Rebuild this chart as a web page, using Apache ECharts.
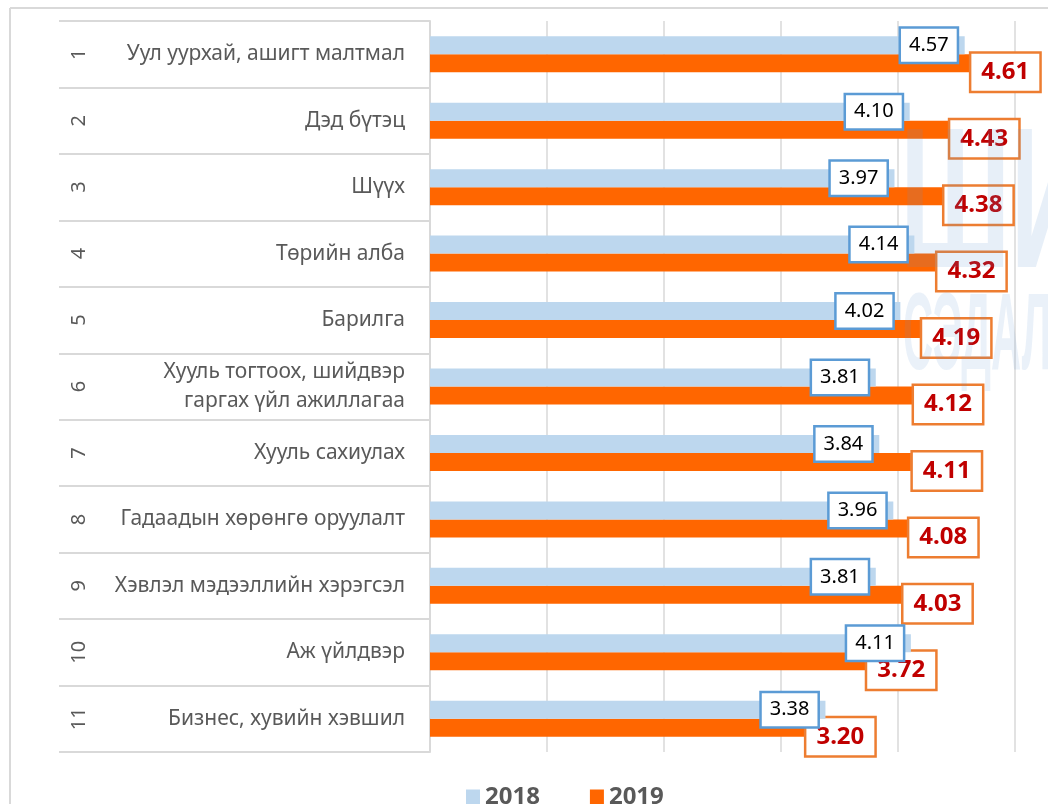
<!DOCTYPE html>
<html>
<head>
<meta charset="utf-8">
<script src="https://cdn.jsdelivr.net/npm/echarts@6/dist/echarts.min.js"></script>
<style>
  html, body { margin: 0; padding: 0; background: #fff; }
  #chart { width: 1048px; height: 804px; }
</style>
</head>
<body>
<div id="chart"></div>
<script>
// row numbers and sector names (top to bottom)
var rowNumbers = ['1', '2', '3', '4', '5', '6', '7', '8', '9', '10', '11']
var sectors = [
    'Уул уурхай, ашигт малтмал',
    'Дэд бүтэц',
    'Шүүх',
    'Төрийн алба',
    'Барилга',
    'Хууль тогтоох, шийдвэр\nгаргах үйл ажиллагаа',
    'Хууль сахиулах',
    'Гадаадын хөрөнгө оруулалт',
    'Хэвлэл мэдээллийн хэрэгсэл',
    'Аж үйлдвэр',
    'Бизнес, хувийн хэвшил'
]
var values2018 = [4.57, 4.10, 3.97, 4.14, 4.02, 3.81, 3.84, 3.96, 3.81, 4.11, 3.38]
var values2019 = [4.61, 4.43, 4.38, 4.32, 4.19, 4.12, 4.11, 4.08, 4.03, 3.72, 3.20]
var xTicks = [0, 1, 2, 3, 4, 5]

var font = 'Noto Sans'
var gridColor = '#D9D9D9'

var myChart = echarts.init(document.getElementById('chart'))

var option = {
    backgroundColor: '#fff',
    animation: false,
    grid: {left: 430, right: 33, top: 21, bottom: 52, containLabel: false},
    legend: {
        data: ['2018', '2019'],
        left: 461,
        top: 780,
        icon: 'rect',
        itemWidth: 14,
        itemHeight: 15,
        itemGap: 50,
        textStyle: {fontFamily: font, fontSize: 24, fontWeight: 'bold', color: '#595959'}
    },
    xAxis: {
        type: 'value',
        min: xTicks[0],
        max: xTicks[xTicks.length - 1],
        interval: 1,
        axisLabel: {show: false},
        axisTick: {show: false},
        axisLine: {show: false},
        splitLine: {lineStyle: {color: gridColor, width: 1.5}}
    },
    yAxis: [
        {
            type: 'category',
            data: sectors,
            inverse: true,
            axisLine: {lineStyle: {color: gridColor, width: 2}},
            axisTick: {show: true, length: 371, interval: 0, lineStyle: {color: gridColor, width: 2}},
            axisLabel: {
                margin: 25,
                fontFamily: font,
                fontSize: 21,
                lineHeight: 29,
                color: '#595959',
                align: 'right'
            }
        },
        {
            type: 'category',
            data: rowNumbers,
            inverse: true,
            position: 'left',
            offset: 343,
            axisLine: {show: false},
            axisTick: {show: false},
            axisLabel: {
                margin: 8,
                rotate: 90,
                align: 'center',
                verticalAlign: 'middle',
                fontFamily: font,
                fontSize: 20,
                color: '#595959'
            }
        }
    ],
    series: [
        {
            name: '2018',
            type: 'bar',
            data: values2018,
            barWidth: 18,
            barGap: '0%',
            zlevel: 1,
            itemStyle: {color: '#BDD7EE'},
            label: {
                show: true,
                position: 'insideRight',
                distance: 8,
                formatter: function (p) { return p.value.toFixed(2) },
                fontFamily: font,
                fontSize: 20,
                color: '#000',
                backgroundColor: '#fff',
                borderColor: '#5B9BD5',
                borderWidth: 2.5,
                padding: [7, 8, 6, 8]
            }
        },
        {
            name: '2019',
            type: 'bar',
            data: values2019,
            barWidth: 18,
            barGap: '0%',
            itemStyle: {color: '#FF6600'},
            label: {
                show: true,
                position: 'right',
                distance: 2,
                offset: [0, 9],
                formatter: function (p) { return p.value.toFixed(2) },
                fontFamily: font,
                fontSize: 24,
                fontWeight: 'bold',
                color: '#C00000',
                backgroundColor: '#fff',
                borderColor: '#ED7D31',
                borderWidth: 2.5,
                padding: [7, 10, 6, 10]
            }
        }
    ],
    graphic: [
        // outer chart frame
        {type: 'line', shape: {x1: 10, y1: 8, x2: 1048, y2: 8}, style: {stroke: gridColor, lineWidth: 2}, silent: true},
        {type: 'line', shape: {x1: 10, y1: 8, x2: 10, y2: 804}, style: {stroke: gridColor, lineWidth: 2}, silent: true},
        // faint watermark at the right edge
        {type: 'text', x: 900, y: 112, scaleX: 0.55, z: 100, silent: true,
            style: {text: 'ШИН', font: 'bold 200px "Liberation Sans"', fill: 'rgba(91,145,205,0.15)', verticalAlign: 'top'}},
        {type: 'text', x: 903, y: 284, scaleX: 0.38, z: 100, silent: true,
            style: {text: 'СЭДАЛГАА', font: 'bold 110px "Liberation Sans"', fill: 'rgba(91,145,205,0.13)', verticalAlign: 'top'}}
    ]
}

myChart.setOption(option)
</script>
</body>
</html>
